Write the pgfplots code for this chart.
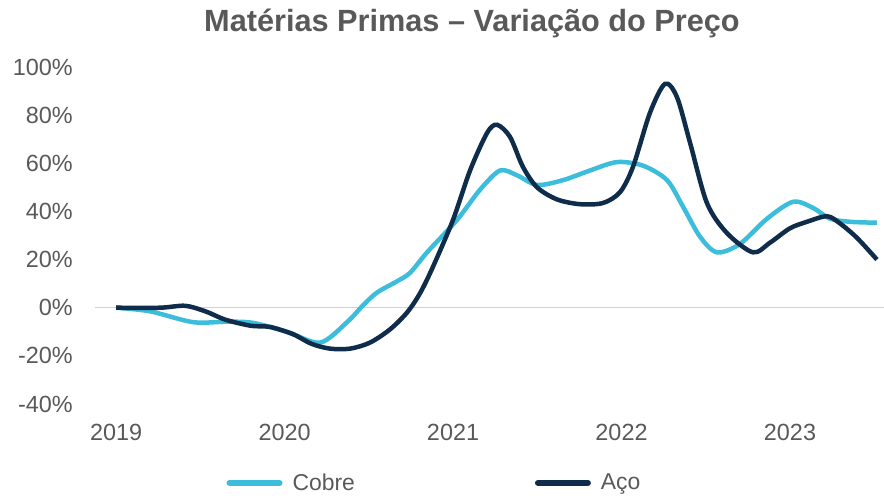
\documentclass[border=0pt]{standalone}
\usepackage{pgfplots}
\pgfplotsset{compat=1.18}
\usepackage{fontspec}
\setmainfont{Liberation Sans}
\definecolor{cobre}{HTML}{3BBDDB}
\definecolor{aco}{HTML}{0F2D4A}
\definecolor{txt}{HTML}{595959}
\begin{document}
\begin{tikzpicture}
\path[use as bounding box] (0,0) rectangle (884bp,499bp);
\begin{axis}[
  at={(95bp,95bp)}, anchor=south west,
  scale only axis, width=789bp, height=337bp,
  xmin=2018.875, xmax=2023.558, ymin=-40, ymax=100,
  axis line style={draw=none},
  tick style={draw=none},
  xtick={2019,2020,2021,2022,2023},
  xticklabels={2019,2020,2021,2022,2023},
  ytick={-40,-20,0,20,40,60,80,100},
  yticklabels={-40\%,-20\%,0\%,20\%,40\%,60\%,80\%,100\%},
  every tick label/.append style={inner sep=0pt, font=\fontsize{23.5}{27}\selectfont, text=txt},
  yticklabel style={xshift=-22bp},
  xticklabel style={yshift=-20bp},
  extra y ticks={0}, extra y tick labels={},
  extra y tick style={grid=major, major grid style={draw=black!18, line width=1.2bp}},
  clip=false,
  legend columns=2,
  legend style={at={(0.429,-0.234)}, anchor=center, draw=none, fill=none,
    font=\fontsize{23}{27}\selectfont, text=txt,
    /tikz/every even column/.append style={column sep=180bp},
    nodes={inner sep=0pt}},
  legend cell align=left,
  legend image code/.code={\draw[#1, line cap=round, line width=6bp] (3bp,0bp) -- (53bp,0bp);},
]
\addplot[cobre, line width=4.5bp, smooth] coordinates {
(2019.000,0) (2019.202,-1.5) (2019.457,-6) (2019.659,-5.8) (2019.813,-6.3)
(2020.015,-10) (2020.211,-14.5) (2020.371,-6) (2020.466,1) (2020.549,6.3)
(2020.668,11) (2020.745,14.5) (2020.846,23) (2021.024,36.5) (2021.160,49)
(2021.279,57) (2021.380,55) (2021.499,51) (2021.653,53) (2021.813,57)
(2021.973,60.5) (2022.128,59) (2022.270,53) (2022.365,42) (2022.466,29.5)
(2022.567,23) (2022.703,26.5) (2022.864,37) (2023.018,44) (2023.136,41.5)
(2023.237,37) (2023.356,35.7) (2023.516,35.3)
};
\addlegendentry{\hspace{10bp}Cobre}
\addplot[aco, line width=4.5bp, smooth] coordinates {
(2019.000,0) (2019.261,0) (2019.410,0.8) (2019.530,-1.5) (2019.650,-5)
(2019.800,-7.5) (2019.914,-8) (2020.050,-11) (2020.160,-15) (2020.270,-17) (2020.389,-17)
(2020.507,-14.5) (2020.626,-9) (2020.727,-2) (2020.804,6) (2020.881,17)
(2021.000,36.5) (2021.101,57) (2021.202,72.6) (2021.261,76) (2021.338,71)
(2021.415,58.5) (2021.499,50) (2021.617,45) (2021.754,43) (2021.890,43.5)
(2021.991,48) (2022.068,58.5) (2022.169,81) (2022.258,93) (2022.329,87.5)
(2022.407,68.5) (2022.507,43.5) (2022.626,31) (2022.780,23) (2022.881,27)
(2023.000,33) (2023.101,35.7) (2023.220,38) (2023.297,35) (2023.398,29)
(2023.516,20)
};
\addlegendentry{\hspace{10bp}Aço}
\end{axis}
\node[font=\fontsize{30.8}{34}\selectfont\bfseries, text=txt, inner sep=0pt] at (472bp,476bp) {Matérias Primas – Variação do Preço};
\end{tikzpicture}
\end{document}
